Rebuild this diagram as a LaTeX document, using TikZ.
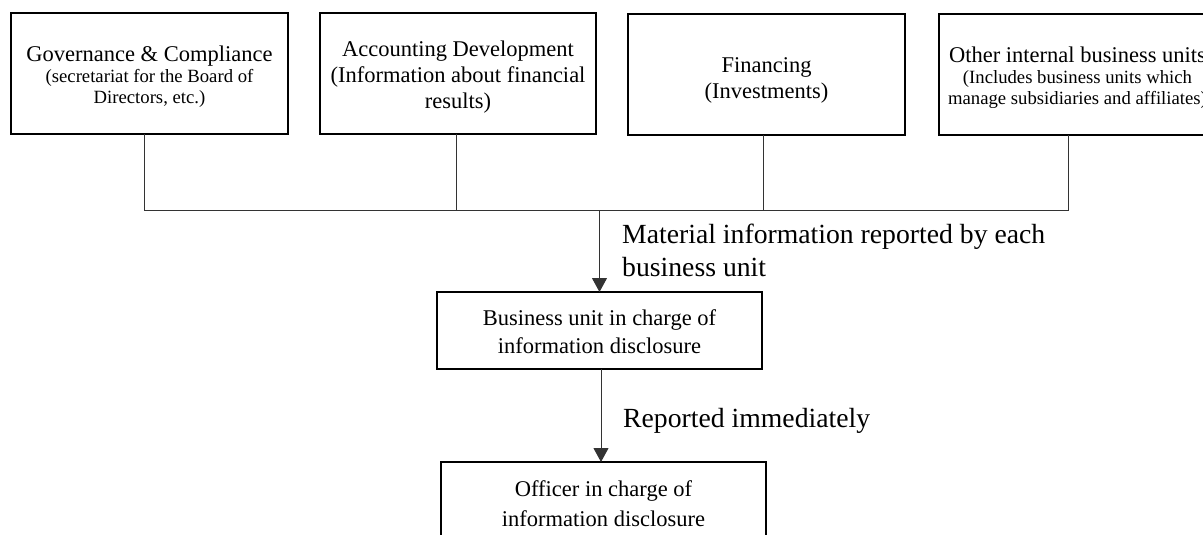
\documentclass[tikz,border=0pt]{standalone}
\usepackage{fontspec}
\setmainfont{Liberation Serif}
\usetikzlibrary{arrows.meta}
\newcommand\mytitlefont{\fontsize{22.5}{26}\selectfont}
\newcommand\mysubfont{\fontsize{18.7}{21}\selectfont}
\newcommand\mylabfont{\fontsize{27.7}{33}\selectfont}
\newcommand\upstrut[1]{\rule{0pt}{#1}}
\newcommand\downstrut[1]{\rule[-#1]{0pt}{0pt}}
\begin{document}
\begin{tikzpicture}[x=1pt,y=-1pt,
  unitbox/.style={draw=black,line width=1.1pt,minimum width=277pt,minimum height=121pt,inner sep=2pt,outer sep=0pt,align=center},
  lowbox/.style={draw=black,line width=1.1pt,minimum width=325pt,inner sep=2pt,outer sep=0pt,align=center},
  conn/.style={draw=black!80,line width=1pt},
  arr/.style={conn,-{Triangle[length=14pt,width=15pt]}},
  lab/.style={inner sep=0pt,anchor=base west,align=left,font=\mylabfont}]
\clip (0,0) rectangle (1203,535);
\useasboundingbox (0,0) rectangle (1203,535);
\node[unitbox,font=\mysubfont] (b1) at (149.5,73.5) {\upstrut{22.5pt}{\mytitlefont Governance \& Compliance}\\(secretariat for the Board of\\Directors, etc.)};
\node[unitbox,font=\mytitlefont,minimum width=276pt] (b2) at (458,73.5) {\upstrut{23.5pt}Accounting Development\\(Information about financial\\results)};
\node[unitbox,font=\mytitlefont] (b3) at (766.5,74.5) {\upstrut{27.5pt}Financing\\(Investments)};
\node[unitbox,font=\mysubfont] (b4) at (1077.5,74.5) {\upstrut{22.5pt}{\mytitlefont Other internal business units}\\(Includes business units which\\manage subsidiaries and affiliates)};
\node[lowbox,minimum height=77pt,font=\fontsize{22.5}{28}\selectfont] (b5) at (599.5,330.5) {\upstrut{17.5pt}Business unit in charge of\\information disclosure};
\node[lowbox,minimum height=100pt,font=\fontsize{22.5}{30}\selectfont] (b6) at (603.5,512) {Officer in charge of\\information disclosure\downstrut{16pt}};
\coordinate (busL) at (144,210);
\coordinate (busR) at (1068,210);
\coordinate (busM) at (599.5,210);
\draw[conn] ([xshift=-5.5pt]b1.south) -- (busL) -- (busR) -- ([xshift=-9.5pt]b4.south);
\draw[conn] ([xshift=-2pt]b2.south) -- ([xshift=-2pt]b2.south |- busL);
\draw[conn] ([xshift=-3.5pt]b3.south) -- ([xshift=-3.5pt]b3.south |- busL);
\draw[arr] (busM) -- (b5.north);
\draw[arr] ([xshift=1.5pt]b5.south) -- ([xshift=1.5pt]b5.south |- b6.north);
\node[lab] (l1) at (622,276) {Material information reported by each\\business unit};
\node[lab] (l2) at (623,427) {Reported immediately};
\end{tikzpicture}
\end{document}
